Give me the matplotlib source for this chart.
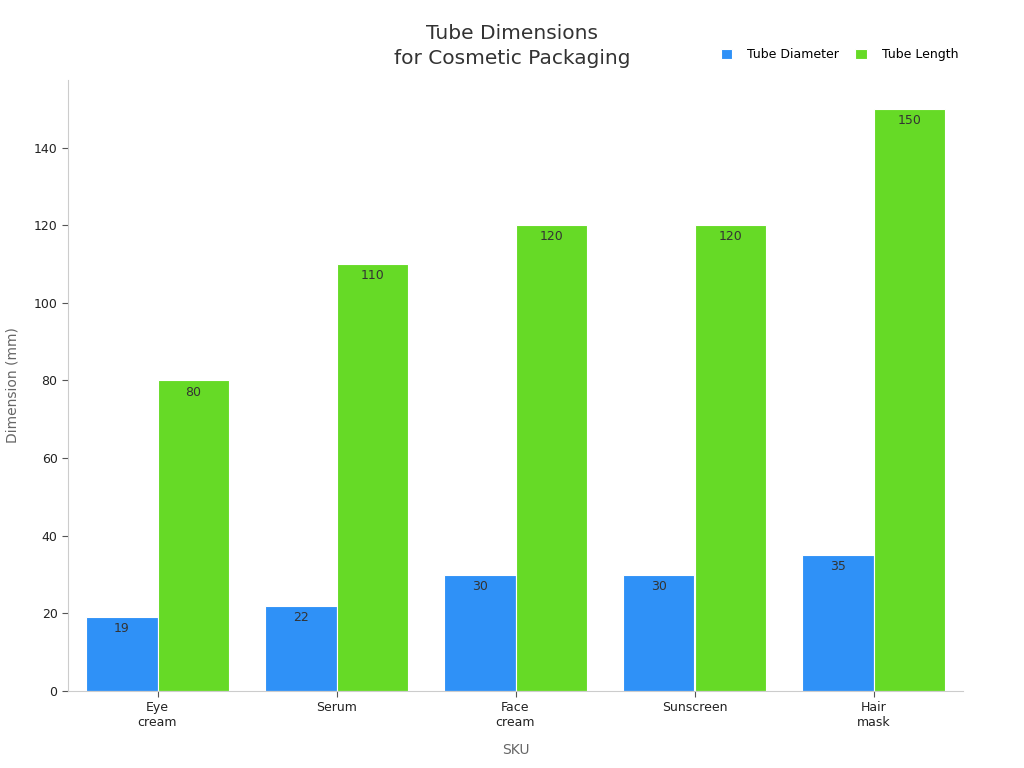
import matplotlib
matplotlib.use("Agg")
import matplotlib.pyplot as plt
import numpy as np

categories = ["Eye\ncream", "Serum", "Face\ncream", "Sunscreen", "Hair\nmask"]
diameter = [19, 22, 30, 30, 35]
length = [80, 110, 120, 120, 150]
series_names = ["Tube Diameter", "Tube Length"]
colors = ["#2f91f7", "#66da26"]

fig = plt.figure(figsize=(10.24, 7.68), dpi=100)
ax = fig.add_axes([68/1024, 1-691/768, (963-68)/1024, (691-80)/768])

x = np.arange(len(categories))
w = 0.4
b1 = ax.bar(x - w/2, diameter, w, color=colors[0], edgecolor="white", linewidth=0.8, label=series_names[0])
b2 = ax.bar(x + w/2, length, w, color=colors[1], edgecolor="white", linewidth=0.8, label=series_names[1])
for bars in (b1, b2):
    ax.bar_label(bars, padding=-13, fontsize=9, color="#333333")

ax.set_xlim(-0.5, 4.5)
ax.set_ylim(0, 157.4)
ax.set_yticks([0, 20, 40, 60, 80, 100, 120, 140])
ax.set_xticks(x)
ax.set_xticklabels(categories, fontsize=9, color="#222222")
ax.tick_params(axis="y", labelsize=9, labelcolor="#222222", color="#555555", length=4)
ax.tick_params(axis="x", color="#555555", length=4)
for s in ["top", "right"]:
    ax.spines[s].set_visible(False)
for s in ["left", "bottom"]:
    ax.spines[s].set_color("#cccccc")

ax.set_xlabel("SKU", fontsize=10, color="#666666", labelpad=10)
ax.set_ylabel("Dimension (mm)", fontsize=10, color="#666666", labelpad=10)

fig.text(0.5, 1-46/768, "Tube Dimensions\nfor Cosmetic Packaging", ha="center", va="center",
         fontsize=14.5, color="#333333", linespacing=1.35)

leg = ax.legend(loc="upper right", bbox_to_anchor=(1.007, 1.07), ncol=2, frameon=False,
                fontsize=9, handlelength=0.9, handleheight=0.9, columnspacing=1.3, handletextpad=1.2)

fig.savefig("out.png", dpi=100)
